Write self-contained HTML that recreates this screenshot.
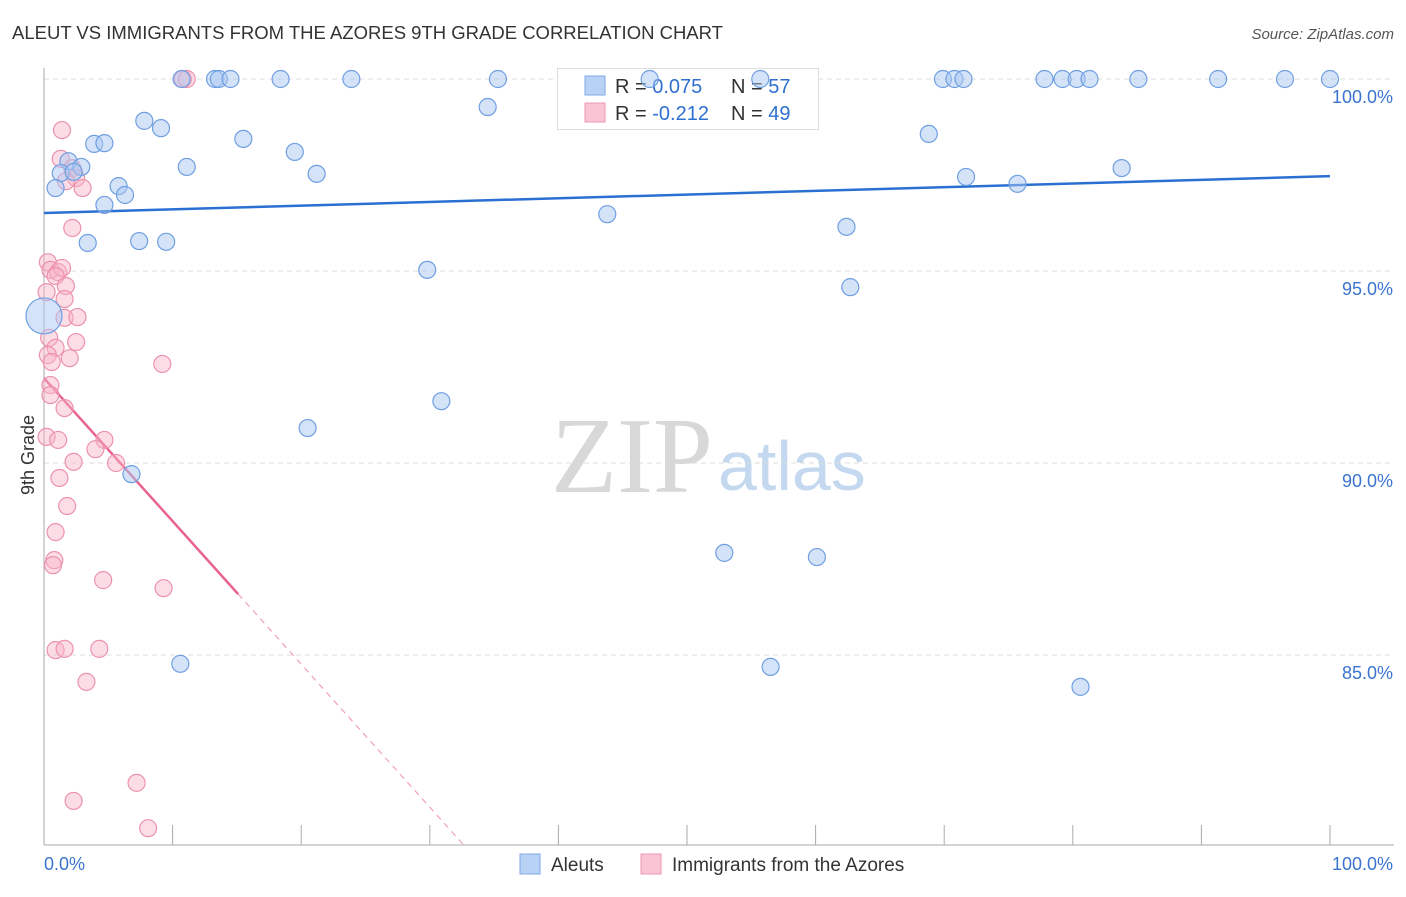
<!DOCTYPE html>
<html><head><meta charset="utf-8"><style>
body{margin:0;background:#fff;font-family:"Liberation Sans",sans-serif;}
svg text{font-family:"Liberation Sans",sans-serif;}
</style></head><body>
<svg id="chart" width="1406" height="892" xmlns="http://www.w3.org/2000/svg">
<text x="12" y="39" font-size="18.5" fill="#333">ALEUT VS IMMIGRANTS FROM THE AZORES 9TH GRADE CORRELATION CHART</text>
<text x="1394" y="39" font-size="15" fill="#555" text-anchor="end" font-style="italic">Source: ZipAtlas.com</text>
<text x="713" y="492" font-size="108" fill="#d8d8d8" text-anchor="end" style="font-family:'Liberation Serif',serif">ZIP</text>
<text x="718" y="490" font-size="70" fill="#c4d8f0">atlas</text>
<g id="grid"></g>
<g id="axes"></g>
<g>
<rect x="557.5" y="68.5" width="261" height="61" fill="#fff" stroke="#ddd"/>
<rect x="585" y="76" width="20" height="19" fill="#b8d2f6" stroke="#7fa9e6"/>
<rect x="585" y="103" width="20" height="19" fill="#fac4d3" stroke="#ee9ab3"/>
<text x="615" y="93" font-size="20" fill="#333">R = <tspan fill="#2f6fd0">0.075</tspan></text>
<text x="731" y="93" font-size="20" fill="#333">N = <tspan fill="#2f6fd0">57</tspan></text>
<text x="615" y="120" font-size="20" fill="#333">R = <tspan fill="#2f6fd0">-0.212</tspan></text>
<text x="731" y="120" font-size="20" fill="#333">N = <tspan fill="#2f6fd0">49</tspan></text>
</g>
<g id="trends"></g>
<g id="pts"></g>
<text x="34" y="455" font-size="18" fill="#333" text-anchor="middle" transform="rotate(-90 34 455)">9th Grade</text>
<g>
<rect x="520" y="854" width="20" height="20" fill="#b8d2f6" stroke="#7fa9e6"/>
<text x="551" y="871" font-size="19" fill="#333">Aleuts</text>
<rect x="641" y="854" width="20" height="20" fill="#fac4d3" stroke="#ee9ab3"/>
<text x="672" y="871" font-size="19" fill="#333">Immigrants from the Azores</text>
</g>
</svg>
<script>
const yTicks=[100,95,90,85];
const yTickLabels=["100.0%","95.0%","90.0%","85.0%"];
const xTicks=[0,10,20,30,40,50,60,70,80,90,100];
const xEndLabels=["0.0%","100.0%"];
const blueX=[10.7,13.3,13.6,14.5,18.4,23.9,35.3,47.1,55.7,69.9,70.8,71.5,77.8,79.2,80.3,81.3,85.1,91.3,96.5,100,34.5,7.8,9.1,15.5,3.9,4.7,68.8,19.5,1.9,2.9,11.1,1.3,2.3,21.2,71.7,83.8,75.7,0.9,5.8,6.3,4.7,43.8,62.4,7.4,9.5,3.4,29.8,62.7,0,20.5,30.9,6.8,52.9,60.1,10.6,56.5,80.6];
const blueY=[100,100,100,100,100,100,100,100,100,100,100,100,100,100,100,100,100,100,100,100,99.27,98.91,98.72,98.44,98.31,98.33,98.57,98.10,97.86,97.71,97.71,97.55,97.58,97.53,97.45,97.68,97.27,97.16,97.21,96.98,96.72,96.48,96.15,95.78,95.76,95.73,95.03,94.58,93.83,90.91,91.61,89.71,87.66,87.55,84.77,84.69,84.17];
const pinkX=[10.8,11.1,1.4,1.3,2.2,2.5,3.0,1.7,2.2,0.3,0.5,1.1,1.4,0.9,1.7,0.2,1.6,1.6,2.6,0.4,2.5,0.9,0.3,0.6,2.0,9.2,0.5,0.5,1.6,0.2,1.1,4.7,4.0,2.3,5.6,1.2,1.8,0.9,0.8,0.7,4.6,9.3,0.9,1.6,4.3,3.3,7.2,2.3,8.1];
const pinkY=[100,100,98.67,97.92,97.68,97.42,97.16,97.34,96.12,95.23,95.03,94.97,95.08,94.87,94.61,94.45,94.27,93.78,93.80,93.26,93.15,93.0,92.81,92.63,92.73,92.58,92.03,91.77,91.43,90.68,90.60,90.60,90.36,90.03,90.0,89.61,88.88,88.20,87.47,87.34,86.95,86.74,85.13,85.16,85.16,84.30,81.67,81.20,80.49];
const blueTrend=[96.51,97.47];
const pinkTrend=[92.21,-0.3725];
const pinkSolidEnd=15.1;
const NS="http://www.w3.org/2000/svg";
const X=v=>44+v*12.86, Y=v=>79+(100-v)*38.4;
function mk(tag,attrs,parent){const e=document.createElementNS(NS,tag);for(const k in attrs)e.setAttribute(k,attrs[k]);document.getElementById(parent).appendChild(e);return e;}
yTicks.forEach((t,i)=>{
 const l=mk('line',{x1:44,x2:1394,y1:Y(t),y2:Y(t),stroke:'#ddd','stroke-dasharray':'5,4'},'grid');
 
 
 const tx=mk('text',{x:1393,y:Y(t)+24,'font-size':18,fill:'#3a74d0','text-anchor':'end'},'grid');
 tx.textContent=yTickLabels[i];
 
 
});
const ax=mk('line',{x1:44,x2:44,y1:68,y2:845,stroke:'#aaa'},'axes');


const bx=mk('line',{x1:44,x2:1394,y1:845,y2:845,stroke:'#aaa'},'axes');


xTicks.forEach(t=>{const l=mk('line',{x1:X(t),x2:X(t),y1:825,y2:845,stroke:'#aaa'},'axes');
 
 });
const xl0=mk('text',{x:44,y:870,'font-size':18,fill:'#3a74d0'},'axes');xl0.textContent=xEndLabels[0];


const xl1=mk('text',{x:1393,y:870,'font-size':18,fill:'#3a74d0','text-anchor':'end'},'axes');xl1.textContent=xEndLabels[1];


pinkX.forEach((x,i)=>{const c=mk('circle',{cx:X(x),cy:Y(pinkY[i]),r:8.5,fill:'rgba(248,180,200,0.45)',stroke:'#ec92ad','stroke-width':1.2},'pts');
 
 });
blueX.forEach((x,i)=>{const big=(x===0);const c=mk('circle',{cx:X(x),cy:Y(blueY[i]),r:big?18:8.5,fill:'rgba(170,200,242,0.5)',stroke:'#6f9fe2','stroke-width':1.2},'pts');
 
 });
const bt=mk('line',{x1:X(0),y1:Y(blueTrend[0]),x2:X(100),y2:Y(blueTrend[1]),stroke:'#2a6fd2','stroke-width':2.5},'trends');


const pv=x=>pinkTrend[0]+pinkTrend[1]*x;
const pt=mk('line',{x1:X(0),y1:Y(pv(0)),x2:X(pinkSolidEnd),y2:Y(pv(pinkSolidEnd)),stroke:'#e8648f','stroke-width':2.5},'trends');


const xEnd=(pinkTrend[0]-80)/-pinkTrend[1];
const pd=mk('line',{x1:X(pinkSolidEnd),y1:Y(pv(pinkSolidEnd)),x2:X(xEnd),y2:Y(80),stroke:'#f0a0b8','stroke-width':1.2,'stroke-dasharray':'6,5'},'trends');


</script>
</body></html>
